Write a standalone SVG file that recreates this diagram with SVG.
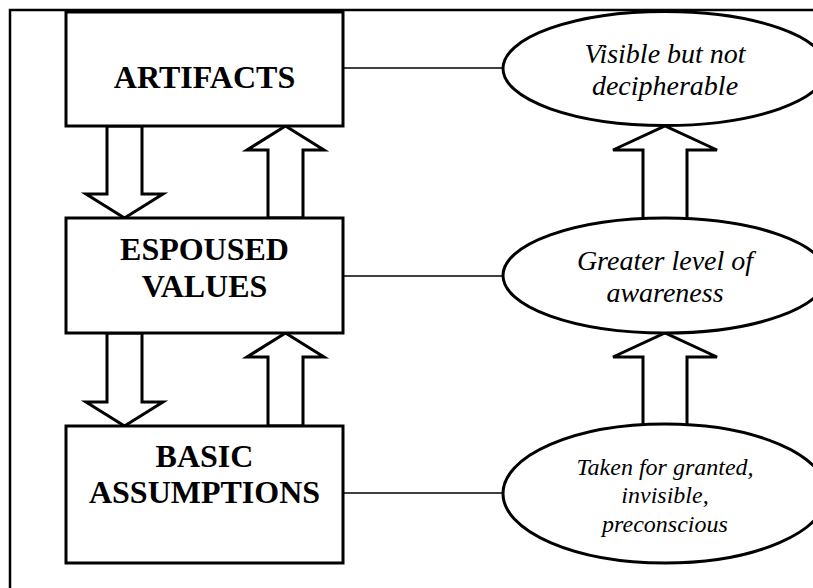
<svg xmlns="http://www.w3.org/2000/svg" width="813" height="588" viewBox="0 0 813 588">
<style>
.frame{fill:none;stroke:#000;stroke-width:2.5}
.box{fill:#fff;stroke:#000;stroke-width:3}
.ell{fill:#fff;stroke:#000;stroke-width:3}
.arrow{fill:#fff;stroke:#000;stroke-width:3;stroke-linejoin:miter}
.link{stroke:#000;stroke-width:1.5;fill:none}
</style>
<rect width="813" height="588" fill="#fff"/>
<rect class="frame" x="10" y="10" width="820" height="600"/>
<g id="connectors">
<line class="link" x1="343" y1="68" x2="503" y2="68"/>
<line class="link" x1="343" y1="276" x2="503" y2="276"/>
<line class="link" x1="343" y1="493" x2="503" y2="493"/>
<polygon class="arrow" points="107,126 142,126 142,194 163,194 124.5,218 86,194 107,194"/>
<polygon class="arrow" points="268,218 303,218 303,150 324,150 285.5,126 247,150 268,150"/>
<polygon class="arrow" points="107,333 142,333 142,402 163,402 124.5,426 86,402 107,402"/>
<polygon class="arrow" points="268,426 303,426 303,357 324,357 285.5,333 247,357 268,357"/>
<polygon class="arrow" points="643,219 687,219 687,150 717,150 665,126 613,150 643,150"/>
<polygon class="arrow" points="643,426 687,426 687,357 717,357 665,333 613,357 643,357"/>
</g>
<g id="artifacts">
<rect class="box" x="66" y="12" width="277" height="114"/>
<g font-family="Liberation Serif, serif" font-weight="bold" font-size="32" text-anchor="middle" fill="#000">
<text x="204.5" y="88">ARTIFACTS</text>
</g>
</g>
<g id="espoused-values">
<rect class="box" x="66" y="218" width="277" height="115"/>
<g font-family="Liberation Serif, serif" font-weight="bold" font-size="32" text-anchor="middle" fill="#000">
<text x="204.5" y="260">ESPOUSED</text>
<text x="204.5" y="297">VALUES</text>
</g>
</g>
<g id="basic-assumptions">
<rect class="box" x="66" y="426" width="277" height="137"/>
<g font-family="Liberation Serif, serif" font-weight="bold" font-size="32" text-anchor="middle" fill="#000">
<text x="204.5" y="467">BASIC</text>
<text x="204.5" y="503">ASSUMPTIONS</text>
</g>
</g>
<g id="visible">
<ellipse class="ell" cx="665" cy="68.5" rx="162" ry="57"/>
<g font-family="Liberation Serif, serif" font-style="italic" font-size="28" text-anchor="middle" fill="#000">
<text x="665" y="63">Visible but not</text>
<text x="665" y="95">decipherable</text>
</g>
</g>
<g id="awareness">
<ellipse class="ell" cx="665" cy="275.5" rx="162" ry="57.5"/>
<g font-family="Liberation Serif, serif" font-style="italic" font-size="28" text-anchor="middle" fill="#000">
<text x="665" y="270">Greater level of</text>
<text x="665" y="302">awareness</text>
</g>
</g>
<g id="taken-for-granted">
<ellipse class="ell" cx="665" cy="493.5" rx="162" ry="69.5"/>
<g font-family="Liberation Serif, serif" font-style="italic" font-size="24" text-anchor="middle" fill="#000">
<text x="665" y="475">Taken for granted,</text>
<text x="665" y="503">invisible,</text>
<text x="665" y="532">preconscious</text>
</g>
</g>
</svg>
